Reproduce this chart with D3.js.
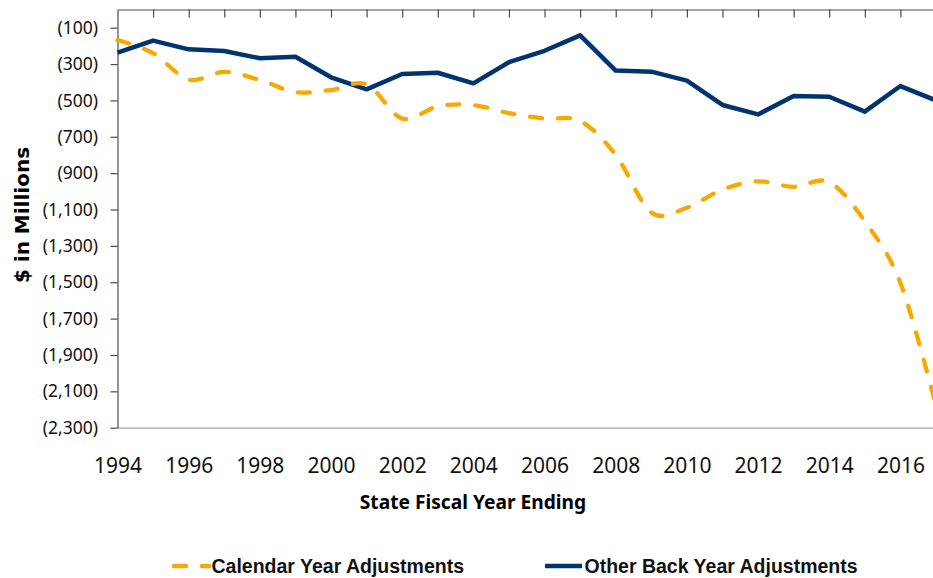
<!DOCTYPE html>
<html>
<head>
<meta charset="utf-8">
<script src="https://cdn.jsdelivr.net/npm/d3@7"></script>
<style>
  html, body { margin: 0; padding: 0; background: #fff; }
  svg { display: block; }
</style>
</head>
<body>
<svg id="chart" width="933" height="578"></svg>
<script>
// State fiscal years (x categories)
const years = [1994, 1995, 1996, 1997, 1998, 1999, 2000, 2001, 2002, 2003, 2004, 2005,
               2006, 2007, 2008, 2009, 2010, 2011, 2012, 2013, 2014, 2015, 2016, 2017];

// $ in millions (negative adjustments)
const calendarYearAdj = [-168, -240, -385, -343, -388, -454, -443, -412, -600, -532, -526, -570,
                         -600, -613, -800, -1116, -1090, -990, -945, -975, -950, -1165, -1504, -2180];
const otherBackYearAdj = [-237, -171, -219, -228, -268, -260, -373, -439, -355, -348, -406, -290,
                          -227, -142, -336, -342, -391, -525, -577, -476, -480, -562, -421, -500];

const yTickValues = [-100, -300, -500, -700, -900, -1100, -1300, -1500, -1700, -1900, -2100, -2300];
const xTickLabels = [1994, 1996, 1998, 2000, 2002, 2004, 2006, 2008, 2010, 2012, 2014, 2016];

const seriesNames = ["Calendar Year Adjustments", "Other Back Year Adjustments"];
const seriesColors = ["#f8a800", "#00346f"];

const svg = d3.select("#chart");

const x = d3.scaleLinear().domain([1994, 2017]).range([117.5, 936]);
const y = d3.scaleLinear().domain([0, -2300]).range([9.5, 427.7]);

const tickFont = "'Noto Sans', 'Open Sans', sans-serif";

// Bottom baseline with year labels
const bottomAxis = svg.append("g")
  .attr("transform", `translate(0,${y(-2300)})`)
  .call(d3.axisBottom(x).tickValues(xTickLabels).tickFormat(d3.format("d"))
        .tickSize(0).tickSizeOuter(0).tickPadding(30.5));
bottomAxis.select(".domain").attr("stroke", "#a3a3a3").attr("stroke-width", 1.3);
bottomAxis.selectAll("text")
  .attr("font-family", tickFont).attr("font-size", 21).attr("fill", "#111");

// Category axis along the zero line, ticks pointing down
const topAxis = svg.append("g")
  .attr("transform", `translate(0,${y(0)})`)
  .call(d3.axisBottom(x).tickValues(years.slice(1)).tickFormat("")
        .tickSize(8).tickSizeOuter(0));
topAxis.select(".domain").attr("stroke", "#4a4a4a").attr("stroke-width", 1.2);
topAxis.selectAll(".tick line").attr("stroke", "#4a4a4a").attr("stroke-width", 1.2);

// Value axis
const leftAxis = svg.append("g")
  .attr("transform", `translate(${x(1994)},0)`)
  .call(d3.axisLeft(y).tickValues(yTickValues)
        .tickFormat(v => `(${d3.format(",")(-v)})`)
        .tickSize(7).tickSizeOuter(0).tickPadding(12.5));
leftAxis.select(".domain").attr("stroke", "#4a4a4a").attr("stroke-width", 1.2);
leftAxis.selectAll(".tick line").attr("stroke", "#4a4a4a").attr("stroke-width", 1.2);
leftAxis.selectAll("text")
  .attr("font-family", tickFont).attr("font-size", 17.5).attr("fill", "#111");

// Series lines
const smoothLine = d3.line()
  .x((d, i) => x(years[i])).y(d => y(d))
  .curve(d3.curveCardinal.tension(0));
const straightLine = d3.line()
  .x((d, i) => x(years[i])).y(d => y(d));

svg.append("path")
  .attr("d", straightLine(otherBackYearAdj))
  .attr("fill", "none")
  .attr("stroke", seriesColors[1])
  .attr("stroke-width", 4.5)
  .attr("stroke-linejoin", "round");

svg.append("path")
  .attr("d", smoothLine(calendarYearAdj))
  .attr("fill", "none")
  .attr("stroke", seriesColors[0])
  .attr("stroke-width", 4.3)
  .attr("stroke-dasharray", "12,16")
  .attr("stroke-linecap", "round");

// Axis titles
svg.append("text")
  .attr("transform", "translate(29,215) rotate(-90)")
  .attr("text-anchor", "middle")
  .attr("font-family", "'DejaVu Sans', Verdana, sans-serif")
  .attr("font-weight", "bold")
  .attr("font-size", 20)
  .attr("fill", "#000")
  .text("$ in Millions");

svg.append("text")
  .attr("x", 473).attr("y", 509)
  .attr("text-anchor", "middle")
  .attr("font-family", tickFont)
  .attr("font-weight", "bold")
  .attr("font-size", 19.2)
  .attr("fill", "#000")
  .text("State Fiscal Year Ending");

// Legend
const legendItems = [
  { name: seriesNames[0], color: seriesColors[0], x0: 174, x1: 209, dash: "12,16", cap: "round", tx: 211.5 },
  { name: seriesNames[1], color: seriesColors[1], x0: 545, x1: 582, dash: null, cap: "butt", tx: 584.5 }
];
const legend = svg.append("g").attr("class", "legend");
legendItems.forEach(it => {
  legend.append("line")
    .attr("x1", it.x0).attr("x2", it.x1)
    .attr("y1", 566).attr("y2", 566)
    .attr("stroke", it.color)
    .attr("stroke-width", 4.5)
    .attr("stroke-linecap", it.cap)
    .attr("stroke-dasharray", it.dash);
  legend.append("text")
    .attr("x", it.tx).attr("y", 572.5)
    .attr("font-family", "'Liberation Sans', Arial, sans-serif")
    .attr("font-weight", "bold")
    .attr("font-size", 19.5)
    .attr("fill", "#111")
    .text(it.name);
});
</script>
</body>
</html>
